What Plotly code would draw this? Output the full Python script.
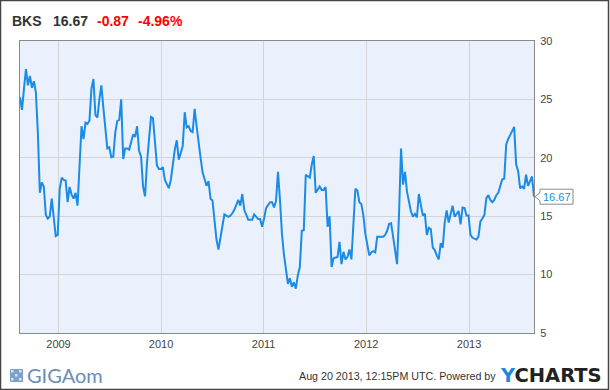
import pandas as pd
import plotly.graph_objects as go

# ---------------- data ----------------
ticker = "BKS"
last_price = 16.67
change = "-0.87"
change_pct = "-4.96%"
timestamp = "Aug 20 2013, 12:15PM UTC. Powered by"

start_date = "2008-08-17"
end_date = "2013-08-20"

weekly_close = [
    # Aug 2008 - Aug 2009
    25.2, 24.1, 25.9, 27.6, 26.2, 27.0, 26.0, 26.55, 25.6, 22.15, 17.0, 17.9, 17.55, 15.1, 14.8,
    14.97, 16.5, 15.0, 13.3, 13.4, 17.3, 18.3, 18.1, 18.05, 16.2, 17.5, 16.85, 16.5, 17.0, 15.9,
    19.3, 22.7, 21.6, 23.0, 22.9, 23.2, 25.9, 26.75, 23.65, 23.45, 25.0, 26.2, 24.3, 22.4, 20.8,
    20.9, 20.05, 20.1, 22.15, 23.15, 23.25, 25.0, 19.9, 20.8, 20.8,
    # Aug 2009 - Aug 2010
    20.7, 21.4, 22.0, 21.8, 22.7, 20.6, 20.1, 17.55, 16.7, 19.6, 21.9, 23.5, 23.4, 21.0, 19.35,
    19.05, 19.05, 19.2, 18.1, 17.75, 17.4, 18.1, 19.6, 20.7, 21.5, 19.85, 20.4, 21.0, 23.9, 22.6,
    22.7, 22.3, 22.2, 24.2, 22.7, 21.05, 20.0, 18.75, 18.2, 17.6, 18.0, 16.5, 16.35, 14.45, 13.0,
    12.15, 13.2, 13.95, 15.15, 15.05, 14.95, 15.05,
    # Aug 2010 - Aug 2011
    15.25, 15.55, 16.0, 16.4, 15.9, 16.9, 15.55, 15.1, 14.7, 14.7, 14.7, 15.15, 14.9, 14.75, 14.75,
    14.1, 14.8, 15.7, 15.95, 16.2, 16.2, 15.75, 16.3, 18.8, 16.4, 13.5, 11.7, 10.4, 9.2, 9.7,
    8.95, 9.35, 8.8, 9.95, 10.65, 13.75, 13.8, 18.55, 18.4, 18.3, 19.4, 20.15, 17.0, 17.25, 17.55,
    17.25, 17.25, 17.5, 14.1, 15.0, 10.65, 11.4, 11.45,
    # Aug 2011 - Aug 2012
    11.5, 12.8, 10.9, 11.95, 11.3, 11.5, 12.15, 11.3, 14.7, 17.35, 17.2, 16.2, 16.05, 15.1, 13.5,
    12.6, 11.65, 11.9, 12.0, 11.9, 13.25, 13.25, 13.25, 13.25, 13.4, 13.75, 14.35, 14.4, 13.25, 12.1,
    10.9, 15.25, 20.8, 17.7, 18.8, 17.1, 16.1, 15.4, 14.97, 15.2, 14.9, 16.9, 15.95, 15.05, 15.2,
    13.4, 14.0, 13.9, 12.3, 12.1, 11.65, 11.3,
    # Aug 2012 - Aug 2013
    12.7, 12.3, 14.45, 15.5, 14.45, 15.25, 15.9, 14.95, 15.25, 15.45, 14.3, 15.75, 15.7, 15.05, 15.05,
    13.4, 13.15, 13.05, 13.0, 13.25, 14.55, 14.8, 15.1, 16.55, 16.8, 16.4, 16.2, 16.4, 16.8, 17.0,
    17.55, 18.15, 18.2, 21.15, 21.6, 21.95, 22.3, 22.65, 19.45, 18.85, 17.4, 17.55, 17.35, 18.55, 17.6,
    18.0, 18.4, 16.67,
]

y_ticks = [5, 10, 15, 20, 25, 30]
year_ticks = ["2009-01-01", "2010-01-01", "2011-01-01", "2012-01-01", "2013-01-01"]
year_labels = ["2009", "2010", "2011", "2012", "2013"]

dates = pd.date_range(start_date, end_date, periods=len(weekly_close))

# ---------------- layout helpers ----------------
FW, FH = 610, 390
L, R, T, B = 20, 76, 41, 57
W, H = FW - L - R, FH - T - B


def px(x):
    return (x - L) / W


def py(y):
    return 1 - (y - T) / H


LINE = "#1a8be6"
FONT = "Liberation Sans, Arial, sans-serif"

fig = go.Figure()
fig.add_trace(go.Scatter(
    x=dates, y=weekly_close, mode="lines",
    line=dict(color=LINE, width=2), hoverinfo="skip", showlegend=False,
))

fig.update_layout(
    width=FW, height=FH,
    margin=dict(l=L, r=R, t=T, b=B),
    paper_bgcolor="white",
    plot_bgcolor="#eaf1fd",
    font=dict(family=FONT, size=11, color="#444"),
    xaxis=dict(
        type="date", range=[start_date, end_date],
        tickvals=year_ticks, ticktext=year_labels,
        showgrid=True, gridcolor="#d4d4d4", gridwidth=1,
        showline=True, linecolor="#8a8a8a", linewidth=1, mirror=True,
        ticks="", ticklabelstandoff=1, zeroline=False,
        tickfont=dict(size=11, color="#444"),
    ),
    yaxis=dict(
        range=[5, 30], tickvals=y_ticks, side="right",
        showgrid=True, gridcolor="#d4d4d4", gridwidth=1,
        showline=True, linecolor="#8a8a8a", linewidth=1, mirror=True,
        ticks="", ticklabelstandoff=3, zeroline=False,
        tickfont=dict(size=11, color="#444"),
    ),
)

ann = []
# header
hdr_y = py(21)
ann.append(dict(text=f"<b>{ticker}</b>", x=px(10), y=hdr_y, font=dict(size=14, color="#333")))
ann.append(dict(text=f"<b>{last_price:.2f}</b>", x=px(51), y=hdr_y, font=dict(size=14, color="#333")))
ann.append(dict(text=f"<b>{change}</b>", x=px(95), y=hdr_y, font=dict(size=14, color="#ff0000")))
ann.append(dict(text=f"<b>{change_pct}</b>", x=px(136), y=hdr_y, font=dict(size=14, color="#ff0000")))

# footer
ft_y = py(376)
ann.append(dict(text=timestamp, x=px(297), y=ft_y, font=dict(size=10.7, color="#333")))
ann.append(dict(text="<b><span style='color:#1a8ad8'>Y</span>CHARTS</b>", x=px(498), y=py(375),
                font=dict(size=19.5, color="#222", family="DejaVu Sans, sans-serif")))
ann.append(dict(text="GIGAom", x=px(25), y=py(375),
                font=dict(size=20, color="#6a8cb5", family="Lato, sans-serif")))

for a in ann:
    a.update(xref="paper", yref="paper", xanchor="left", yanchor="middle", showarrow=False)

# last-price callout
lp_px = T + (30 - last_price) / 25 * H
fig.add_shape(
    type="path", xref="paper", yref="paper", layer="above",
    path=(f"M {px(540)},{py(lp_px - 7.5)} L {px(573)},{py(lp_px - 7.5)} "
          f"L {px(573)},{py(lp_px + 7.5)} L {px(540)},{py(lp_px + 7.5)} "
          f"L {px(540)},{py(lp_px + 4)} L {px(535)},{py(lp_px)} L {px(540)},{py(lp_px - 4)} Z"),
    line=dict(color="#8a8a8a", width=1), fillcolor="white",
)
ann.append(dict(text=f"{last_price:.2f}", x=px(556.5), y=py(lp_px), xref="paper", yref="paper",
                xanchor="center", yanchor="middle", showarrow=False,
                font=dict(size=11, color=LINE)))

# GigaOM icon
fig.add_shape(type="rect", xref="paper", yref="paper",
              x0=px(10), x1=px(23), y0=py(382), y1=py(369),
              line=dict(width=0), fillcolor="#7d9fc8")
for i in range(3):
    for j in range(3):
        if (i + j) % 2 == 0:
            fig.add_shape(type="rect", xref="paper", yref="paper",
                          x0=px(11 + 4 * i), x1=px(13.5 + 4 * i),
                          y0=py(370 + 4 * j + 2.5), y1=py(370 + 4 * j),
                          line=dict(width=0), fillcolor="#d8e4f2")

# outer border
fig.add_shape(type="rect", xref="paper", yref="paper",
              x0=px(0.5), x1=px(608.5), y0=py(389.5), y1=py(0.5),
              line=dict(color="#444", width=1.5), fillcolor="rgba(0,0,0,0)")

fig.update_layout(annotations=ann)
fig.write_html("out.html", config={"displayModeBar": False},
               post_script="document.body.style.margin='0';")
